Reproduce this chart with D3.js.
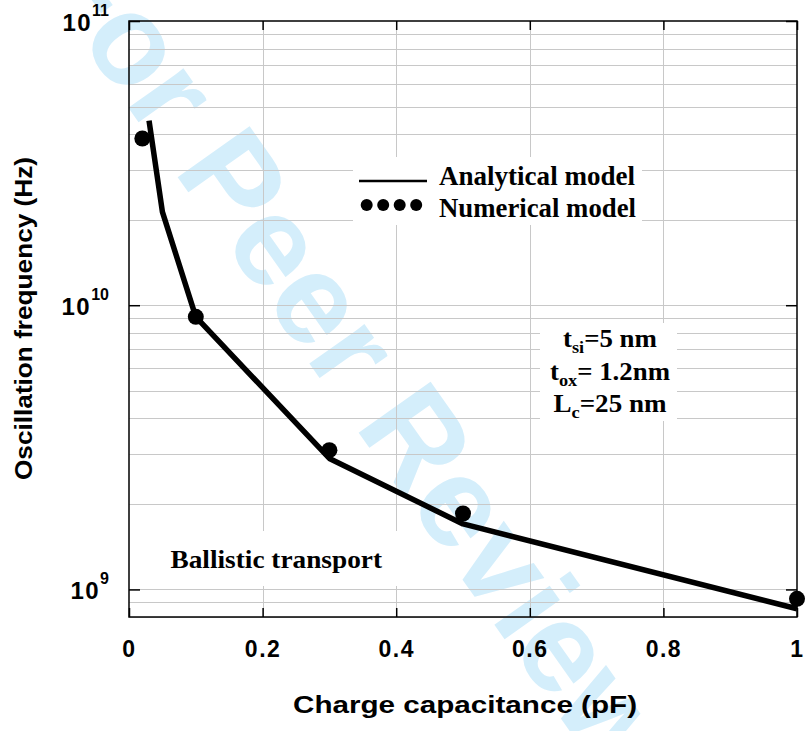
<!DOCTYPE html>
<html><head><meta charset="utf-8">
<script src="https://cdn.jsdelivr.net/npm/d3@7"></script>
<style>body{margin:0;background:#fff}svg{display:block}</style>
</head><body>
<svg id="chart" width="810" height="731"></svg>
<script>
// ---- data ----
const analyticalX = [0.03, 0.05, 0.1, 0.3, 0.5, 1.0];
const analyticalY = [4.46e10, 2.13e10, 9.1e9, 2.89e9, 1.70e9, 8.55e8];
const numericalX = [0.02, 0.1, 0.3, 0.5, 1.0];
const numericalY = [3.86e10, 9.1e9, 3.09e9, 1.85e9, 9.27e8];
const xTicks = [0, 0.2, 0.4, 0.6, 0.8, 1];
const xTickLabels = ["0", "0.2", "0.4", "0.6", "0.8", "1"];
const yMajorTicks = [1e9, 1e10, 1e11];
const yTickExponents = ["9", "10", "11"];
const legendLabels = ["Analytical model", "Numerical model"];
const paramLines = [["t", "si", "=5 nm"], ["t", "ox", "= 1.2nm"], ["L", "c", "=25 nm"]];
const noteText = "Ballistic transport";
const xTitle = "Charge capacitance (pF)";
const yTitle = "Oscillation frequency (Hz)";
const watermark = "For Peer Review";

// ---- layout ----
const L = 129, R = 797, T = 21, B = 617;
const svg = d3.select("#chart");
const x = d3.scaleLinear().domain([0, 1]).range([L, R]);
const y = d3.scaleLog().domain([Math.pow(10, 8.903), 1e11]).range([B, T]);

const sans = "'Liberation Sans', Arial, Helvetica, sans-serif";
const serif = "'Liberation Serif', 'Times New Roman', Times, serif";

// watermark
svg.append("text")
  .attr("transform", "translate(33,-27) rotate(54.7)")
  .attr("font-family", sans).attr("font-weight", "bold").attr("font-size", 128)
  .attr("fill", "#d4eefb")
  .text(watermark);

// grid
const minorVals = [];
for (let e = 8; e <= 10; e++) for (let m = 1; m <= 9; m++) {
  const v = m * Math.pow(10, e);
  if (v > y.domain()[0] && v < 1e11) minorVals.push(v);
}
const grid = svg.append("g").attr("stroke", "#c8c8c8").attr("stroke-width", 1);
grid.selectAll("line.h").data(minorVals).join("line")
  .attr("x1", L).attr("x2", R)
  .attr("y1", d => Math.round(y(d)) + 0.5).attr("y2", d => Math.round(y(d)) + 0.5);
grid.selectAll("line.v").data(xTicks.slice(1, -1)).join("line")
  .attr("y1", T).attr("y2", B)
  .attr("x1", d => Math.round(x(d)) + 0.5).attr("x2", d => Math.round(x(d)) + 0.5);

// white boxes behind texts
const boxes = [[353, 157, 289, 68], [540, 323, 137, 98], [150, 531, 255, 55]];
svg.append("g").selectAll("rect").data(boxes).join("rect")
  .attr("x", d => d[0]).attr("y", d => d[1]).attr("width", d => d[2]).attr("height", d => d[3])
  .attr("fill", "#fff");

// axes (ticks)
function styleAxis(g) {
  g.select(".domain").remove();
  g.selectAll(".tick line").attr("stroke", "#000").attr("stroke-width", 1.5);
}
svg.append("g").attr("transform", `translate(0,${B})`)
  .call(d3.axisBottom(x).tickValues(xTicks).tickSize(-9).tickPadding(24)
    .tickFormat((d, i) => xTickLabels[i]))
  .call(styleAxis)
  .call(g => g.selectAll(".tick text")
    .attr("font-family", sans).attr("font-weight", "bold").attr("font-size", 23)
    .attr("letter-spacing", "1.5px").attr("fill", "#000"));
svg.append("g").attr("transform", `translate(0,${T})`)
  .call(d3.axisTop(x).tickValues(xTicks).tickSize(-9).tickFormat(""))
  .call(styleAxis);
svg.append("g").attr("transform", `translate(${L},0)`)
  .call(d3.axisLeft(y).tickValues(yMajorTicks).tickSize(-11).tickFormat(""))
  .call(styleAxis);
svg.append("g").attr("transform", `translate(${R},0)`)
  .call(d3.axisRight(y).tickValues(yMajorTicks).tickSize(-11).tickFormat(""))
  .call(styleAxis);

// y tick labels 10^n
const yl = svg.append("g").selectAll("text").data(yMajorTicks).join("text")
  .attr("x", 109).attr("y", d => y(d) + 10)
  .attr("text-anchor", "end")
  .attr("font-family", sans).attr("font-weight", "bold").attr("font-size", 24)
  .attr("fill", "#000");
yl.append("tspan").attr("letter-spacing", "1.5px").text("10");
yl.append("tspan").attr("font-size", 16).attr("dy", -15).text((d, i) => yTickExponents[i]);

// frame
svg.append("rect").attr("x", L).attr("y", T).attr("width", R - L).attr("height", B - T)
  .attr("fill", "none").attr("stroke", "#000").attr("stroke-width", 1.5);

// analytical line
const lineData = analyticalX.map((v, i) => [v, analyticalY[i]]);
svg.append("path").datum(lineData)
  .attr("d", d3.line().x(d => x(d[0])).y(d => y(d[1])))
  .attr("fill", "none").attr("stroke", "#000").attr("stroke-width", 5.5)
  .attr("stroke-linejoin", "round");

// numerical points
const ptData = numericalX.map((v, i) => [v, numericalY[i]]);
svg.append("g").selectAll("circle").data(ptData).join("circle")
  .attr("cx", d => x(d[0])).attr("cy", d => y(d[1])).attr("r", 8).attr("fill", "#000");

// legend
svg.append("line").attr("x1", 359).attr("x2", 427).attr("y1", 181).attr("y2", 181)
  .attr("stroke", "#000").attr("stroke-width", 2.7);
svg.append("g").selectAll("circle").data(d3.range(4)).join("circle")
  .attr("cx", d => 366.7 + d * 16.5).attr("cy", 205).attr("r", 6).attr("fill", "#000");
svg.append("g").selectAll("text").data(legendLabels).join("text")
  .attr("x", 439).attr("y", (d, i) => [185, 216.5][i])
  .attr("font-family", serif).attr("font-weight", "bold").attr("font-size", 27)
  .attr("textLength", (d, i) => [196, 197][i]).attr("lengthAdjust", "spacingAndGlyphs")
  .text(d => d);

// parameters annotation
const pl = svg.append("g").selectAll("text").data(paramLines).join("text")
  .attr("x", 610).attr("y", (d, i) => [346.5, 380, 411.5][i])
  .attr("text-anchor", "middle")
  .attr("font-family", serif).attr("font-weight", "bold").attr("font-size", 25)
  .attr("textLength", (d, i) => [94, 120, 113][i]).attr("lengthAdjust", "spacingAndGlyphs");
pl.append("tspan").text(d => d[0]);
pl.append("tspan").attr("font-size", 17).attr("dy", 6).text(d => d[1]);
pl.append("tspan").attr("dy", -6).text(d => d[2]);

// note
svg.append("text").attr("x", 170.5).attr("y", 568.3)
  .attr("font-family", serif).attr("font-weight", "bold").attr("font-size", 25)
  .attr("textLength", 211.5).attr("lengthAdjust", "spacingAndGlyphs")
  .text(noteText);

// axis titles
svg.append("text").attr("x", 293).attr("y", 713)
  .attr("font-family", sans).attr("font-weight", "bold").attr("font-size", 24)
  .attr("textLength", 344).attr("lengthAdjust", "spacingAndGlyphs")
  .text(xTitle);
svg.append("text").attr("transform", "translate(32,480) rotate(-90)")
  .attr("font-family", sans).attr("font-weight", "bold").attr("font-size", 24)
  .attr("textLength", 323).attr("lengthAdjust", "spacingAndGlyphs")
  .text(yTitle);
</script>
</body></html>
